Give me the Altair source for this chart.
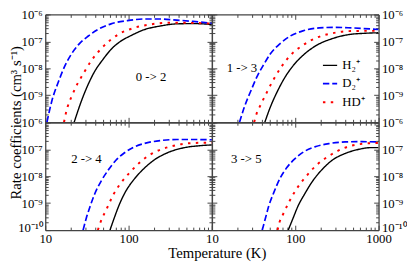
import altair as alt
import pandas as pd

FONT = "Liberation Serif"
SPECIES = ["H₂⁺", "D₂⁺", "HD⁺"]
COLORS = ["#000000", "#0000ff", "#ff0000"]
DASHES = [[1, 0], [6.5, 3], [2.5, 5.5]]
WIDTHS = [1.4, 2.0, 2.6]
TRANSITIONS = ["0 -> 2", "1 -> 3", "2 -> 4", "3 -> 5"]

# log10(T / K) and log10(k / cm^3 s^-1)
t02_h2_logT = [1.347, 1.434, 1.513, 1.592, 1.690, 1.789, 1.907, 2.026, 2.183, 2.380, 2.578, 2.775, 3.0]
t02_h2_logk = [-10.0, -9.21, -8.61, -8.12, -7.68, -7.30, -6.99, -6.79, -6.57, -6.43, -6.35, -6.34, -6.37]
t02_d2_logT = [1.02, 1.079, 1.158, 1.237, 1.316, 1.394, 1.513, 1.631, 1.789, 1.986, 2.183, 2.380, 2.578, 2.775, 3.0]
t02_d2_logk = [-10.0, -9.21, -8.50, -7.90, -7.46, -7.14, -6.81, -6.56, -6.35, -6.23, -6.17, -6.17, -6.21, -6.26, -6.33]
t02_hd_logT = [1.225, 1.245, 1.335, 1.462, 1.552, 1.671, 1.888, 2.065, 2.262, 2.460, 2.657, 3.0]
t02_hd_logk = [-10.0, -9.70, -8.91, -8.17, -7.72, -7.27, -6.72, -6.50, -6.37, -6.31, -6.31, -6.34]

t13_h2_logT = [1.635, 1.702, 1.780, 1.858, 1.975, 2.092, 2.248, 2.443, 2.637, 2.832, 3.0]
t13_h2_logk = [-10.0, -9.43, -8.89, -8.43, -7.90, -7.52, -7.16, -6.90, -6.75, -6.70, -6.68]
t13_d2_logT = [1.331, 1.39, 1.468, 1.546, 1.624, 1.702, 1.819, 1.936, 2.092, 2.287, 2.48, 2.676, 3.0]
t13_d2_logk = [-10.0, -9.43, -8.83, -8.28, -7.85, -7.46, -7.08, -6.81, -6.61, -6.50, -6.48, -6.50, -6.56]
t13_hd_logT = [1.507, 1.534, 1.573, 1.651, 1.733, 1.83, 1.947, 2.092, 2.259, 2.443, 2.637, 2.832, 3.0]
t13_hd_logk = [-10.0, -9.70, -9.43, -8.94, -8.45, -7.96, -7.50, -7.14, -6.86, -6.70, -6.62, -6.61, -6.61]

t24_h2_logT = [1.777, 1.828, 1.888, 1.966, 2.065, 2.183, 2.302, 2.46, 2.657, 2.854, 3.0]
t24_h2_logk = [-10.0, -9.55, -9.06, -8.56, -8.12, -7.72, -7.41, -7.14, -6.95, -6.87, -6.84]
t24_d2_logT = [1.454, 1.493, 1.533, 1.592, 1.671, 1.75, 1.848, 1.947, 2.065, 2.183, 2.38, 2.578, 2.775, 3.0]
t24_d2_logk = [-10.0, -9.55, -9.17, -8.67, -8.18, -7.80, -7.41, -7.14, -6.92, -6.79, -6.68, -6.64, -6.64, -6.65]
t24_hd_logT = [1.631, 1.663, 1.742, 1.82, 1.919, 2.034, 2.172, 2.333, 2.519, 2.716, 2.913, 3.0]
t24_hd_logk = [-10.0, -9.71, -9.18, -8.67, -8.21, -7.80, -7.39, -7.08, -6.89, -6.78, -6.76, -6.76]

t35_h2_logT = [1.916, 1.975, 2.033, 2.111, 2.209, 2.326, 2.443, 2.598, 2.754, 2.91, 3.0]
t35_h2_logk = [-10.0, -9.55, -9.11, -8.67, -8.18, -7.74, -7.41, -7.16, -7.01, -6.94, -6.94]
t35_d2_logT = [1.604, 1.643, 1.682, 1.741, 1.819, 1.897, 1.994, 2.111, 2.248, 2.404, 2.598, 2.793, 3.0]
t35_d2_logk = [-10.0, -9.55, -9.11, -8.62, -8.07, -7.69, -7.36, -7.08, -6.90, -6.79, -6.73, -6.72, -6.73]
t35_hd_logT = [1.788, 1.811, 1.85, 1.928, 2.021, 2.138, 2.259, 2.415, 2.591, 2.778, 2.969, 3.0]
t35_hd_logk = [-10.0, -9.71, -9.44, -8.94, -8.45, -7.98, -7.58, -7.23, -6.95, -6.81, -6.77, -6.77]

X_MAJOR = [10, 100, 1000]
X_MINOR = [20, 30, 40, 50, 60, 70, 80, 90, 200, 300, 400, 500, 600, 700, 800, 900]
Y_MAJOR = [1e-10, 1e-9, 1e-8, 1e-7, 1e-6]
Y_MINOR = [m * 10.0 ** e for e in range(-10, -6) for m in range(2, 10)]

DATA = {
    "0 -> 2": [(t02_h2_logT, t02_h2_logk), (t02_d2_logT, t02_d2_logk), (t02_hd_logT, t02_hd_logk)],
    "1 -> 3": [(t13_h2_logT, t13_h2_logk), (t13_d2_logT, t13_d2_logk), (t13_hd_logT, t13_hd_logk)],
    "2 -> 4": [(t24_h2_logT, t24_h2_logk), (t24_d2_logT, t24_d2_logk), (t24_hd_logT, t24_hd_logk)],
    "3 -> 5": [(t35_h2_logT, t35_h2_logk), (t35_d2_logT, t35_d2_logk), (t35_hd_logT, t35_hd_logk)],
}

rows = []
for tr, series in DATA.items():
    for sp, (lt, lk) in zip(SPECIES, series):
        for a, b in zip(lt, lk):
            rows.append({"transition": tr, "species": sp, "T": 10 ** a, "k": 10 ** b})
df = pd.DataFrame(rows)

W, H = 170, 110
AX = "#444444"
XS = alt.Scale(type="log", domain=[10, 1000])
YS = alt.Scale(type="log", domain=[1e-10, 1e-6])
YLAB = "'10' + ['⁻⁶','⁻⁷','⁻⁸','⁻⁹','⁻¹⁰'][round(-log(datum.value)/LN10) - 6]"


def tick_axis(orient, offset, values, size, domain):
    return alt.Axis(orient=orient, offset=offset, values=values, tickSize=size, ticks=True,
                    labels=False, domain=domain, grid=False, title=None,
                    tickColor=AX, tickWidth=1, domainColor=AX, domainWidth=1.3)


def label_axis_y(orient, values, title=None):
    kw = dict(orient=orient, offset=0, values=values, ticks=False, tickSize=0, domain=False,
              grid=False, labelExpr=YLAB, labelFont=FONT, labelFontSize=13, labelColor="black",
              labelPadding=3, labelFlush=False, labelOverlap=False,
              labelOffset={"condition": {"test": "datum.value < 2e-10", "value": -3}, "value": 0})
    if title:
        kw.update(title=title, titleY=H, titleFont=FONT, titleFontSize=15,
                  titleFontWeight="normal", titleColor="black", titlePadding=-2)
    else:
        kw["title"] = None
    return alt.Axis(**kw)


def label_axis_x(values, title=None):
    kw = dict(orient="bottom", offset=0, values=values, ticks=False, tickSize=0, domain=False,
              grid=False, labelExpr="format(datum.value, 'd')", labelFont=FONT, labelFontSize=13,
              labelColor="black", labelPadding=3, labelFlush=False, labelOverlap=False)
    if title:
        kw.update(title=title, titleX=W + 5, titleFont=FONT, titleFontSize=15,
                  titleFontWeight="normal", titleColor="black", titlePadding=0)
    else:
        kw["title"] = None
    return alt.Axis(**kw)


def panel(tr, ylab_orient, ylab_values, xlab_values, ann, legend=False, ytitle=None, xtitle=None):
    d = df[df.transition == tr]
    base = alt.Chart(d)
    if legend:
        leg = alt.Legend(orient="none", legendX=112, legendY=round(47 * H / 117), title=None,
                         symbolType="stroke", symbolSize=210, labelFont=FONT, labelFontSize=13,
                         labelColor="black", rowPadding=3, labelOffset=4, padding=0)
    else:
        leg = None
    lines = base.mark_line(clip=True, interpolate="monotone").encode(
        x=alt.X("T:Q", scale=XS, axis=tick_axis("top", -H, X_MAJOR, 5, True)),
        y=alt.Y("k:Q", scale=YS, axis=tick_axis("right", -W, Y_MAJOR, 5, True)),
        color=alt.Color("species:N", scale=alt.Scale(domain=SPECIES, range=COLORS), legend=leg),
        strokeDash=alt.StrokeDash("species:N", scale=alt.Scale(domain=SPECIES, range=DASHES), legend=leg),
        strokeWidth=alt.StrokeWidth("species:N", scale=alt.Scale(domain=SPECIES, range=WIDTHS), legend=leg),
    )
    inv = base.mark_line(opacity=0)
    l2 = inv.encode(
        x=alt.X("T:Q", scale=XS, axis=tick_axis("top", -H, X_MINOR, 3, False)),
        y=alt.Y("k:Q", scale=YS, axis=tick_axis("right", -W, Y_MINOR, 3, False)),
        detail="species:N",
    )
    l3 = inv.encode(
        x=alt.X("T:Q", scale=XS, axis=tick_axis("bottom", -H, X_MAJOR, 5, True)),
        y=alt.Y("k:Q", scale=YS, axis=tick_axis("left", -W, Y_MAJOR, 5, True)),
        detail="species:N",
    )
    l4 = inv.encode(
        x=alt.X("T:Q", scale=XS, axis=tick_axis("bottom", -H, X_MINOR, 3, False)),
        y=alt.Y("k:Q", scale=YS, axis=tick_axis("left", -W, Y_MINOR, 3, False)),
        detail="species:N",
    )
    l5 = inv.encode(
        x=alt.X("T:Q", scale=XS, axis=label_axis_x(xlab_values, xtitle) if xlab_values else None),
        y=alt.Y("k:Q", scale=YS, axis=label_axis_y(ylab_orient, ylab_values, ytitle)),
        detail="species:N",
    )
    text = alt.Chart(pd.DataFrame({"t": [tr]})).mark_text(
        font=FONT, fontSize=13, color="black", align="center", baseline="middle"
    ).encode(text="t:N", x=alt.value(ann[0] * W), y=alt.value(ann[1] * H))
    return alt.layer(lines, l2, l3, l4, l5, text).resolve_axis(
        x="independent", y="independent"
    ).properties(width=W, height=H)


p1 = panel("0 -> 2", "left", [1e-9, 1e-8, 1e-7, 1e-6], None, (0.635, 0.584),
           ytitle="Rate coefficients (cm³ s⁻¹)")
p2 = panel("1 -> 3", "right", [1e-9, 1e-8, 1e-7, 1e-6], None, (0.18, 0.494), legend=True)
p3 = panel("2 -> 4", "left", Y_MAJOR, [10, 100], (0.247, 0.337), xtitle="Temperature (K)")
p4 = panel("3 -> 5", "right", Y_MAJOR, [10, 100, 1000], (0.206, 0.346))

chart = alt.concat(p1, p2, p3, p4, columns=2, spacing=0, bounds="flush").resolve_scale(
    color="independent", strokeDash="independent", strokeWidth="independent"
).resolve_legend(
    color="independent", strokeDash="independent", strokeWidth="independent"
).properties(
    padding={"left": 0, "right": 0, "top": -2, "bottom": 0}, background="white"
).configure_view(stroke=None)

chart.save("out.html", embed_options={"renderer": "svg", "actions": False})
